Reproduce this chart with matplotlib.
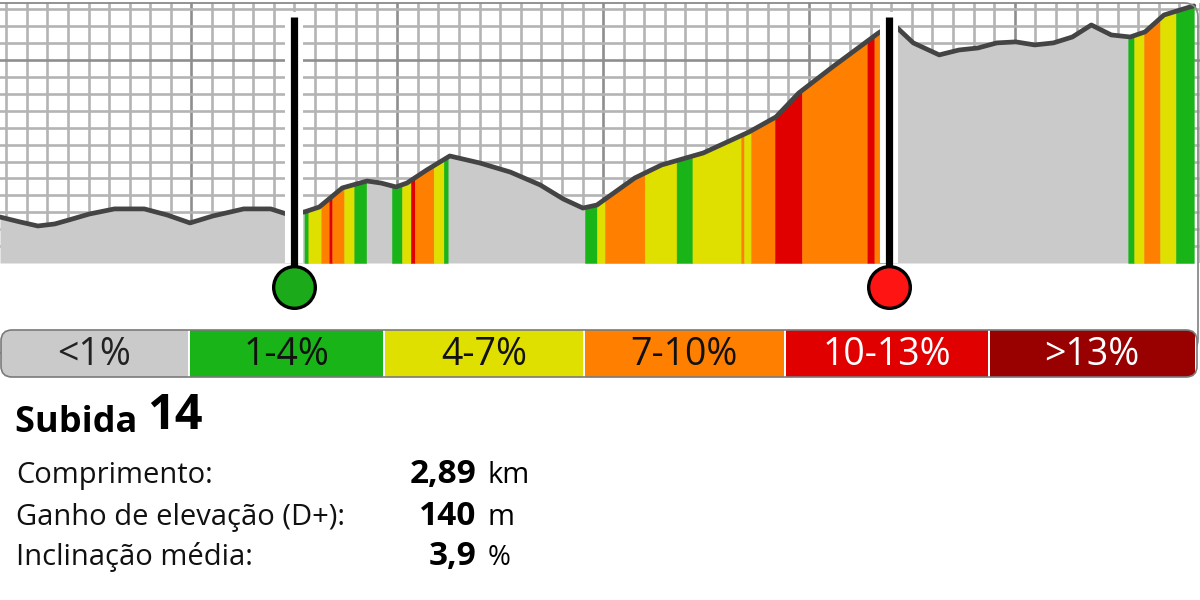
import numpy as np
import matplotlib
matplotlib.use("Agg")
import matplotlib.pyplot as plt
from matplotlib.patches import FancyBboxPatch, Rectangle

plt.rcParams['font.family'] = ['Open Sans', 'DejaVu Sans']

# elevation profile (distance in km, elevation in m)
dist_km = [0.07, 0.167, 0.254, 0.336, 0.403, 0.505, 0.626, 0.771, 0.882, 0.993,
           1.104, 1.254, 1.385, 1.462, 1.549, 1.621, 1.733, 1.853, 1.921, 1.994,
           2.047, 2.143, 2.255, 2.400, 2.549, 2.694, 2.806, 2.902, 2.970, 3.154,
           3.284, 3.487, 3.709, 3.840, 3.951, 4.115, 4.338, 4.362, 4.430, 4.507,
           4.633, 4.729, 4.821, 4.913, 5.005, 5.097, 5.188, 5.280, 5.372, 5.469,
           5.561, 5.633, 5.725, 5.836, 5.870]
elev_m = [207.2, 204.3, 201.9, 203.1, 205.4, 209.0, 212.0, 212.0, 208.4, 203.7,
          207.8, 212.0, 212.0, 209.0, 210.2, 213.1, 224.4, 228.5, 227.3, 225.0,
          227.3, 235.0, 243.3, 239.2, 233.8, 226.2, 217.9, 212.5, 214.3, 230.3,
          238.0, 245.1, 257.5, 266.4, 280.6, 296.0, 316.1, 317.9, 319.0, 310.2,
          303.1, 306.0, 307.2, 310.2, 310.8, 309.0, 310.2, 313.7, 320.8, 314.9,
          313.7, 316.7, 326.7, 330.9, 332.1]

# gradient class of each stretch (0 = <1% ... 5 = >13%)
band_edges_km = [1.549, 1.568, 1.631, 1.670, 1.684, 1.742, 1.791, 1.849, 1.974, 2.023,
                 2.066, 2.085, 2.177, 2.226, 2.245, 2.912, 2.970, 3.009, 3.202, 3.357,
                 3.434, 3.671, 3.685, 3.719, 3.835, 3.966, 4.284, 4.318, 4.390, 5.551,
                 5.580, 5.628, 5.706, 5.783, 5.870]
band_class = [1, 2, 3, 4, 3, 2, 1, 0, 1, 2, 4, 3, 2, 1, 0, 1, 2, 3, 2, 1,
              2, 3, 2, 3, 4, 3, 4, 3, 0, 1, 2, 3, 2, 1]

climb_start_km = 1.50
climb_end_km = 4.39

grade_labels = ['<1%', '1-4%', '4-7%', '7-10%', '10-13%', '>13%']
grade_colors = ['#cacaca', '#18b418', '#e0e000', '#ff8000', '#e00000', '#990000']
grade_text = ['#222222', '#111111', '#111111', '#111111', 'white', 'white']

climb_name = 'Subida'
climb_number = '14'
stat_labels = ['Comprimento:', 'Ganho de elevação (D+):', 'Inclinação média:']
stat_values = ['2,89', '140', '3,9']
stat_units = ['km', 'm', '%']

fig = plt.figure(figsize=(12, 6), dpi=100)

# profile axes
ax = fig.add_axes([0, (600 - 263) / 600, 1, 260 / 600])
ax.set_xlim(0.07, 5.87)
ax.set_ylim(180, 333.8)
for s in ax.spines.values():
    s.set_visible(False)
ax.tick_params(which='both', length=0, labelbottom=False, labelleft=False)
ax.set_xticks(np.arange(1, 6))
ax.set_xticks(np.arange(0.1, 5.9, 0.1), minor=True)
ax.set_yticks([300])
ax.set_yticks(np.arange(190, 340, 10), minor=True)
ax.grid(which='minor', color='#b4b4b4', lw=1.9)
ax.grid(which='major', color='#8e8e8e', lw=1.9)
ax.set_axisbelow(True)

ax.fill_between(dist_km, elev_m, 180, color=grade_colors[0], lw=0, zorder=2)
for i, c in enumerate(band_class):
    if c == 0:
        continue
    a, b = band_edges_km[i], band_edges_km[i + 1]
    inner = [d for d in dist_km if a < d < b]
    xs = [a] + inner + [b]
    ys = np.interp(xs, dist_km, elev_m)
    ax.fill_between(xs, ys, 180, color=grade_colors[c], lw=0.3, zorder=3)
ax.plot(dist_km, elev_m, color='#444444', lw=3.4, solid_joinstyle='round',
        solid_capstyle='round', zorder=4)

# start / end markers
trans = ax.get_xaxis_transform()
for km, col in [(climb_start_km, '#1aaa1a'), (climb_end_km, '#ff1414')]:
    ax.plot([km, km], [0, 0.965], transform=trans, color='white', lw=13,
            solid_capstyle='butt', clip_on=False, zorder=6)
    ax.plot([km, km], [-0.09, 0.946], transform=trans, color='black', lw=5.2,
            solid_capstyle='butt', clip_on=False, zorder=7)
    ax.plot([km], [-0.092], 'o', transform=trans, ms=30, mfc=col, mec='black',
            mew=2.4, clip_on=False, zorder=8)

# overlay in pixel units for frame, legend and text
ov = fig.add_axes([0, 0, 1, 1], zorder=5)
ov.set_xlim(0, 1200)
ov.set_ylim(600, 0)
ov.axis('off')

ov.add_patch(FancyBboxPatch((-30, 3), 1228, 350, boxstyle='round,pad=0,rounding_size=14',
                            fc='none', ec='#8a8a8a', lw=1.3))

seg_x = [0, 190, 385, 585, 786, 990, 1197]
bar = FancyBboxPatch((1, 330), 1196, 47, boxstyle='round,pad=0,rounding_size=11',
                     fc='white', ec='none')
ov.add_patch(bar)
for i, lab in enumerate(grade_labels):
    x0, x1 = seg_x[i], seg_x[i + 1] - 2.5
    r = Rectangle((x0, 330), x1 - x0, 47, fc=grade_colors[i], ec='none')
    ov.add_patch(r)
    r.set_clip_path(bar)
    ov.text((x0 + x1) / 2, 355, lab, ha='center', va='center', fontsize=27,
            color=grade_text[i])
ov.add_patch(FancyBboxPatch((1, 330), 1196, 47, boxstyle='round,pad=0,rounding_size=11',
                            fc='none', ec='#7a7a7a', lw=1.2))

# climb info
t = ov.text(15, 432, climb_name + ' ', fontsize=26, fontweight='bold', va='baseline')
ov.annotate(climb_number, xycoords=t, xy=(1, 0), va='bottom', fontsize=35,
            fontweight='bold')

row_y = [483, 525, 565]
for lab, val, unit, y in zip(stat_labels, stat_values, stat_units, row_y):
    ov.text(16, y, lab, fontsize=21, va='baseline', color='#111111')
    ov.text(476, y, val, fontsize=24, fontweight='bold', va='baseline', ha='right')
    ov.text(488, y, unit, fontsize=21 if unit != '%' else 20, va='baseline')

fig.savefig('out.png', dpi=100)
